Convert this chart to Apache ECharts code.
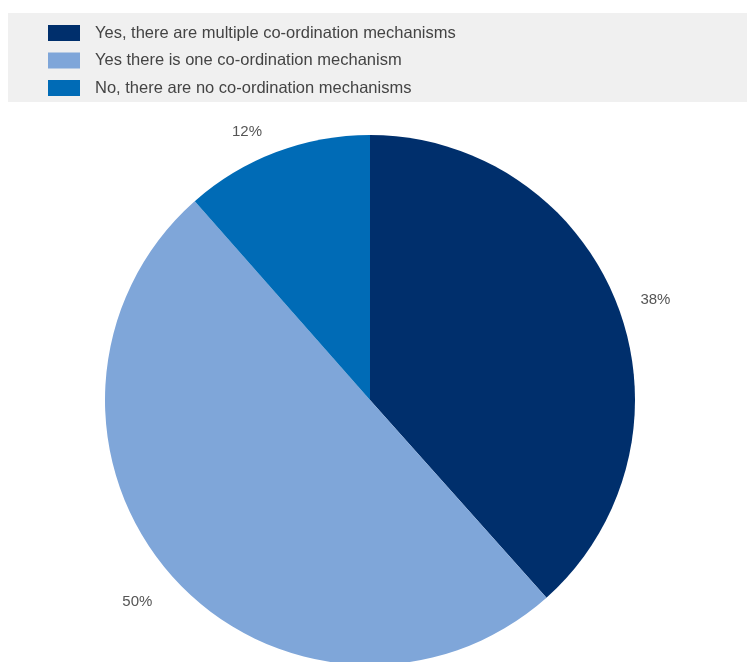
<!DOCTYPE html>
<html><head><meta charset="utf-8">
<script src="https://cdn.jsdelivr.net/npm/echarts@6/dist/echarts.min.js"></script>
<style>html,body{margin:0;padding:0;background:#fff}#c{width:747px;height:662px}</style>
</head><body><div id="c"></div>
<script>
const categories = ["Yes, there are multiple co-ordination mechanisms","Yes there is one co-ordination mechanism","No, there are no co-ordination mechanisms"];
const values = [38.4, 50.1, 11.5];
const labels = ["38%", "50%", "12%"];
const colors = ["#002F6C", "#7FA6D9", "#006BB6"];
const labelShift = [[-3, 1], [3, 14], [1, -3]];
const font = "'Liberation Sans',sans-serif";
const chart = echarts.init(document.getElementById('c'));
chart.setOption({
  animation: false,
  graphic: [{type:'rect', left: 8, top: 13, shape:{width: 739, height: 89}, style:{fill:'#f0f0f0'}, z: -10}],
  legend: {
    orient: 'vertical', left: 8, top: 13, padding: [11.5, 0, 0, 40],
    itemWidth: 32, itemHeight: 16, itemGap: 10.5,
    icon: 'rect',
    textStyle: {fontFamily: font, fontSize: 16.5, lineHeight: 16, color: '#444', padding: [0,0,0,10]},
    data: categories
  },
  series: [{
    type: 'pie', center: [370, 400], radius: 265, startAngle: 90, clockwise: true,
    data: categories.map((n,i)=>({name:n, value: values[i], itemStyle:{color: colors[i]}})),
    label: {show: true, position: 'outside', formatter: p => labels[p.dataIndex], fontFamily: font, fontSize: 15, color: '#555'},
    labelLine: {show: false, length: 18, length2: 4},
    labelLayout: p => ({dx: labelShift[p.dataIndex][0], dy: labelShift[p.dataIndex][1]}),
    itemStyle: {borderWidth: 0}
  }]
});
</script></body></html>
